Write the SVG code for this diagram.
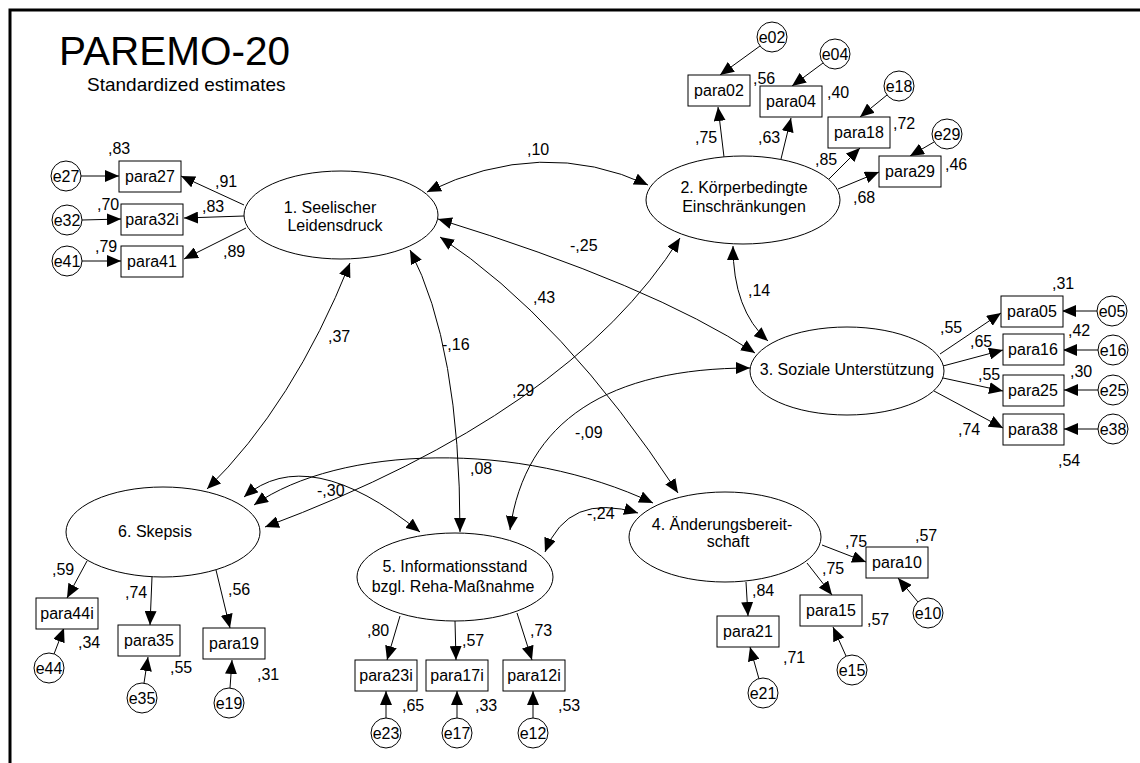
<svg xmlns="http://www.w3.org/2000/svg" width="1140" height="763" viewBox="0 0 1140 763">
<style>
text{font-family:"Liberation Sans",Arial,sans-serif;font-size:16px;fill:#000}
.m{text-anchor:middle}
.box{fill:#fff;stroke:#000;stroke-width:1}
.lat{fill:#fff;stroke:#000;stroke-width:1}
.err{fill:#fff;stroke:#000;stroke-width:1}
.c path{fill:none;stroke:#000;stroke-width:1}
.c .a{marker-end:url(#ah)}
.c .d{marker-start:url(#ah);marker-end:url(#ah)}
</style>
<defs>
<marker id="ah" markerUnits="userSpaceOnUse" markerWidth="15" markerHeight="12" refX="14" refY="6" orient="auto-start-reverse" viewBox="0 0 15 12"><path d="M0,0 L14,6 L0,12 z" fill="#000"/></marker>
</defs>
<rect width="1140" height="763" fill="#fff"/>
<path d="M10,763 V10 H1140" fill="none" stroke="#000" stroke-width="3"/>
<text x="59" y="65" style="font-size:40.5px">PAREMO-20</text>
<text x="87" y="91" style="font-size:19px">Standardized estimates</text>

<g class="c" id="connectors">
<!-- error arrows -->
<path class="a" d="M81,176 L119,176"/>
<path class="a" d="M82,220 L121,219"/>
<path class="a" d="M82,261 L121,261"/>
<path class="a" d="M760,46 L720,75"/>
<path class="a" d="M823,63 L792,86"/>
<path class="a" d="M887,95 L860,117"/>
<path class="a" d="M934,142 L910,156"/>
<path class="a" d="M1097,311 L1062,311"/>
<path class="a" d="M1098,350 L1063,350"/>
<path class="a" d="M1098,390 L1064,390"/>
<path class="a" d="M1098,429 L1064,429"/>
<path class="a" d="M54,654 L64,628"/>
<path class="a" d="M144,683 L148,657"/>
<path class="a" d="M230,688 L232,660"/>
<path class="a" d="M386,718 L386,691"/>
<path class="a" d="M457,718 L457,691"/>
<path class="a" d="M533,718 L533,691"/>
<path class="a" d="M918,602 L898,578"/>
<path class="a" d="M846,656 L833,627"/>
<path class="a" d="M759,679 L750,647"/>
<!-- loadings -->
<path class="a" d="M244,205 L181,176"/>
<path class="a" d="M244,216 L184,218"/>
<path class="a" d="M246,228 L184,259"/>
<path class="a" d="M724,157 L718,107"/>
<path class="a" d="M781,159 L791,118"/>
<path class="a" d="M828,180 L860,148"/>
<path class="a" d="M838,189 L879,172"/>
<path class="a" d="M940,354 L1001,313"/>
<path class="a" d="M943,366 L1003,350"/>
<path class="a" d="M943,378 L1003,391"/>
<path class="a" d="M934,391 L1003,428"/>
<path class="a" d="M87,561 L67,598"/>
<path class="a" d="M152,577 L150,625"/>
<path class="a" d="M216,570 L230,628"/>
<path class="a" d="M400,616 L387,660"/>
<path class="a" d="M455,621 L456,660"/>
<path class="a" d="M517,613 L532,660"/>
<path class="a" d="M822,545 L866,562"/>
<path class="a" d="M807,563 L832,595"/>
<path class="a" d="M746,582 L748,616"/>
<!-- covariances -->
<path class="d" d="M427,192 Q542,136 648,185"/>
<path class="d" d="M438,219 Q652,285 755,353"/>
<path class="d" d="M440,237 Q563,318 678,493"/>
<path class="d" d="M410,250 Q460,346 460,532"/>
<path class="d" d="M350,263 Q293,405 207,489"/>
<path class="d" d="M680,238 Q570,413 265,527"/>
<path class="d" d="M254,505 C340,445 520,440 653,503"/>
<path class="d" d="M244,497 Q308,442 420,532"/>
<path class="d" d="M545,552 Q568,492 638,513"/>
<path class="d" d="M510,530 C525,420 610,368 750,368"/>
<path class="d" d="M733,246 Q733,310 768,341"/>
</g>

<g id="lat1"><ellipse class="lat" cx="341" cy="215" rx="97" ry="44"/><text class="m" x="330" y="213">1. Seelischer</text><text class="m" x="335" y="231">Leidensdruck</text></g>
<g id="lat2"><ellipse class="lat" cx="743" cy="200" rx="97" ry="44"/><text class="m" x="744" y="193">2. Körperbedingte</text><text class="m" x="744" y="212">Einschränkungen</text></g>
<g id="lat3"><ellipse class="lat" cx="847" cy="371" rx="97" ry="44"/><text class="m" x="847" y="375">3. Soziale Unterstützung</text></g>
<g id="lat4"><ellipse class="lat" cx="725" cy="537" rx="96" ry="45"/><text class="m" x="722" y="530">4. Änderungsbereit-</text><text class="m" x="728" y="547">schaft</text></g>
<g id="lat5"><ellipse class="lat" cx="455" cy="577" rx="98" ry="44"/><text class="m" x="455" y="572">5. Informationsstand</text><text class="m" x="453" y="592">bzgl. Reha-Maßnahme</text></g>
<g id="lat6"><ellipse class="lat" cx="163" cy="532" rx="97" ry="45"/><text class="m" x="155" y="537">6. Skepsis</text></g>

<g id="para27"><rect class="box" x="119" y="161" width="62" height="31"/><text class="m" x="150" y="182">para27</text></g>
<g id="para32i"><rect class="box" x="121" y="204" width="62" height="31"/><text class="m" x="152" y="225">para32i</text></g>
<g id="para41"><rect class="box" x="121" y="246" width="62" height="31"/><text class="m" x="152" y="267">para41</text></g>
<g id="para02"><rect class="box" x="688" y="75" width="62" height="31"/><text class="m" x="719" y="96">para02</text></g>
<g id="para04"><rect class="box" x="760" y="86" width="62" height="31"/><text class="m" x="791" y="107">para04</text></g>
<g id="para18"><rect class="box" x="828" y="117" width="62" height="31"/><text class="m" x="859" y="138">para18</text></g>
<g id="para29"><rect class="box" x="879" y="156" width="62" height="31"/><text class="m" x="910" y="177">para29</text></g>
<g id="para05"><rect class="box" x="1001" y="296" width="62" height="31"/><text class="m" x="1032" y="317">para05</text></g>
<g id="para16"><rect class="box" x="1003" y="334" width="61" height="31"/><text class="m" x="1033" y="355">para16</text></g>
<g id="para25"><rect class="box" x="1003" y="375" width="61" height="31"/><text class="m" x="1033" y="396">para25</text></g>
<g id="para38"><rect class="box" x="1003" y="414" width="61" height="31"/><text class="m" x="1033" y="435">para38</text></g>
<g id="para44i"><rect class="box" x="36" y="598" width="62" height="31"/><text class="m" x="67" y="619">para44i</text></g>
<g id="para35"><rect class="box" x="118" y="625" width="62" height="31"/><text class="m" x="149" y="646">para35</text></g>
<g id="para19"><rect class="box" x="203" y="628" width="62" height="31"/><text class="m" x="234" y="649">para19</text></g>
<g id="para23i"><rect class="box" x="355" y="660" width="62" height="31"/><text class="m" x="386" y="681">para23i</text></g>
<g id="para17i"><rect class="box" x="426" y="660" width="62" height="31"/><text class="m" x="457" y="681">para17i</text></g>
<g id="para12i"><rect class="box" x="503" y="660" width="62" height="31"/><text class="m" x="534" y="681">para12i</text></g>
<g id="para10"><rect class="box" x="866" y="547" width="62" height="31"/><text class="m" x="897" y="568">para10</text></g>
<g id="para15"><rect class="box" x="800" y="595" width="62" height="31"/><text class="m" x="831" y="616">para15</text></g>
<g id="para21"><rect class="box" x="717" y="616" width="62" height="31"/><text class="m" x="748" y="637">para21</text></g>

<g id="e27"><circle class="err" cx="66" cy="176" r="15"/><text class="m" x="66" y="182">e27</text></g>
<g id="e32"><circle class="err" cx="67" cy="220" r="15"/><text class="m" x="67" y="226">e32</text></g>
<g id="e41"><circle class="err" cx="67" cy="261" r="15"/><text class="m" x="67" y="267">e41</text></g>
<g id="e02"><circle class="err" cx="772" cy="37" r="15"/><text class="m" x="772" y="43">e02</text></g>
<g id="e04"><circle class="err" cx="835" cy="54" r="15"/><text class="m" x="835" y="60">e04</text></g>
<g id="e18"><circle class="err" cx="899" cy="86" r="15"/><text class="m" x="899" y="92">e18</text></g>
<g id="e29"><circle class="err" cx="947" cy="134" r="15"/><text class="m" x="947" y="140">e29</text></g>
<g id="e05"><circle class="err" cx="1112" cy="311" r="15"/><text class="m" x="1112" y="317">e05</text></g>
<g id="e16"><circle class="err" cx="1113" cy="350" r="15"/><text class="m" x="1113" y="356">e16</text></g>
<g id="e25"><circle class="err" cx="1113" cy="390" r="15"/><text class="m" x="1113" y="396">e25</text></g>
<g id="e38"><circle class="err" cx="1113" cy="429" r="15"/><text class="m" x="1113" y="435">e38</text></g>
<g id="e44"><circle class="err" cx="49" cy="668" r="15"/><text class="m" x="49" y="674">e44</text></g>
<g id="e35"><circle class="err" cx="142" cy="698" r="15"/><text class="m" x="142" y="704">e35</text></g>
<g id="e19"><circle class="err" cx="229" cy="703" r="15"/><text class="m" x="229" y="709">e19</text></g>
<g id="e23"><circle class="err" cx="386" cy="733" r="15"/><text class="m" x="386" y="739">e23</text></g>
<g id="e17"><circle class="err" cx="457" cy="733" r="15"/><text class="m" x="457" y="739">e17</text></g>
<g id="e12"><circle class="err" cx="533" cy="733" r="15"/><text class="m" x="533" y="739">e12</text></g>
<g id="e10"><circle class="err" cx="928" cy="613" r="15"/><text class="m" x="928" y="619">e10</text></g>
<g id="e15"><circle class="err" cx="852" cy="670" r="15"/><text class="m" x="852" y="676">e15</text></g>
<g id="e21"><circle class="err" cx="763" cy="693" r="15"/><text class="m" x="763" y="699">e21</text></g>

<g id="labels">
<text x="108" y="154">,83</text>
<text x="97" y="210">,70</text>
<text x="95" y="252">,79</text>
<text x="215" y="187">,91</text>
<text x="202" y="212">,83</text>
<text x="223" y="257">,89</text>
<text x="527" y="155">,10</text>
<text x="753" y="84">,56</text>
<text x="827" y="98">,40</text>
<text x="893" y="129">,72</text>
<text x="945" y="170">,46</text>
<text x="695" y="143">,75</text>
<text x="758" y="143">,63</text>
<text x="815" y="165">,85</text>
<text x="853" y="203">,68</text>
<text x="570" y="251">-,25</text>
<text x="533" y="303">,43</text>
<text x="748" y="296">,14</text>
<text x="442" y="350">-,16</text>
<text x="328" y="342">,37</text>
<text x="512" y="396">,29</text>
<text x="575" y="438">-,09</text>
<text x="470" y="474">,08</text>
<text x="317" y="496">-,30</text>
<text x="587" y="519">-,24</text>
<text x="1052" y="289">,31</text>
<text x="1068" y="336">,42</text>
<text x="1070" y="377">,30</text>
<text x="1058" y="466">,54</text>
<text x="940" y="333">,55</text>
<text x="970" y="347">,65</text>
<text x="978" y="380">,55</text>
<text x="958" y="435">,74</text>
<text x="52" y="575">,59</text>
<text x="78" y="648">,34</text>
<text x="125" y="598">,74</text>
<text x="170" y="673">,55</text>
<text x="228" y="595">,56</text>
<text x="257" y="680">,31</text>
<text x="367" y="636">,80</text>
<text x="402" y="711">,65</text>
<text x="462" y="646">,57</text>
<text x="475" y="711">,33</text>
<text x="530" y="636">,73</text>
<text x="558" y="711">,53</text>
<text x="845" y="547">,75</text>
<text x="915" y="541">,57</text>
<text x="822" y="574">,75</text>
<text x="867" y="625">,57</text>
<text x="752" y="596">,84</text>
<text x="783" y="663">,71</text>
</g>
</svg>
